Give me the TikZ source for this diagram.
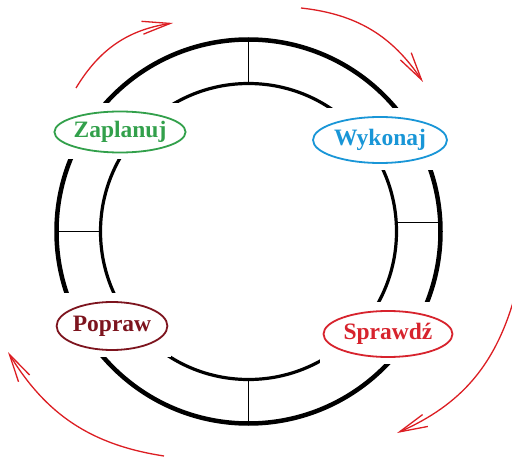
\documentclass[tikz,border=0pt]{standalone}
\usepackage{fontspec}
\setmainfont{Liberation Serif}
\usepackage{xcolor}
\usetikzlibrary{shapes,arrows,positioning,fit,calc,arrows.meta,backgrounds}

\definecolor{planGreen}{RGB}{50,160,75}
\definecolor{doBlue}{RGB}{25,150,215}
\definecolor{checkRed}{RGB}{215,35,45}
\definecolor{actRed}{RGB}{125,20,30}
\definecolor{arrowRed}{RGB}{220,30,35}

\begin{document}
\begin{tikzpicture}[x=1pt,y=1pt,
    phase/.style={ellipse, draw, line width=1.8pt, fill=white, inner sep=0pt,
        font=\fontsize{23.5}{26}\selectfont\bfseries},
    cycle/.style={arrowRed, line width=1.3pt, -{Straight Barb[length=28pt,width=13pt]}}]
    \useasboundingbox (0,0) rectangle (512,459);
    \coordinate (c) at (248.5,227.5);

    % Etapy
    \node[phase, draw=planGreen, text=planGreen, minimum width=128pt, minimum height=41pt]
        (plan) at (120,327) {Zaplanuj};
    \node[phase, draw=doBlue, text=doBlue, minimum width=134pt, minimum height=46pt]
        (do) at (380,319) {Wykonaj};
    \node[phase, draw=checkRed, text=checkRed, minimum width=129pt, minimum height=46pt]
        (check) at (388,125) {Sprawdź};
    \node[phase, draw=actRed, text=actRed, minimum width=110pt, minimum height=48pt]
        (act) at (112,133) {Popraw};

    % Pierscienie (pod etapami)
    \begin{pgfonlayer}{background}
        \draw[line width=4.5pt] (c) circle (192pt);
        \draw[line width=3.2pt] (c) circle (148pt);
        \foreach \a in {90,180,270}
            \draw[line width=1.6pt] ($(c)+(\a:148pt)$) -- ($(c)+(\a:192pt)$);
        \draw[line width=1.6pt] ($(c)+(0:148pt)+(0,9)$) -- ($(c)+(0:192pt)+(0,9)$);
        \foreach \n in {plan,do,check,act}
            \fill[white] ($(\n.west |- \n.south)+(-3,-6)$) rectangle ($(\n.east |- \n.north)+(3,8)$);
    \end{pgfonlayer}

    % Strzalki
    \coordinate (a1) at (76,371);  \coordinate (b1) at (173,436);
    \coordinate (a2) at (301,451); \coordinate (b2) at (423,377);
    \coordinate (a3) at (514,160); \coordinate (b3) at (397,26);
    \coordinate (a4) at (164,3);   \coordinate (b4) at (8,107);
    \draw[cycle] (a1) to[bend left=25] (b1);
    \draw[cycle] (a2) to[bend left=25] (b2);
    \draw[cycle] (a3) to[bend left=25] (b3);
    \draw[cycle] (a4) to[bend left=25] (b4);
\end{tikzpicture}
\end{document}
